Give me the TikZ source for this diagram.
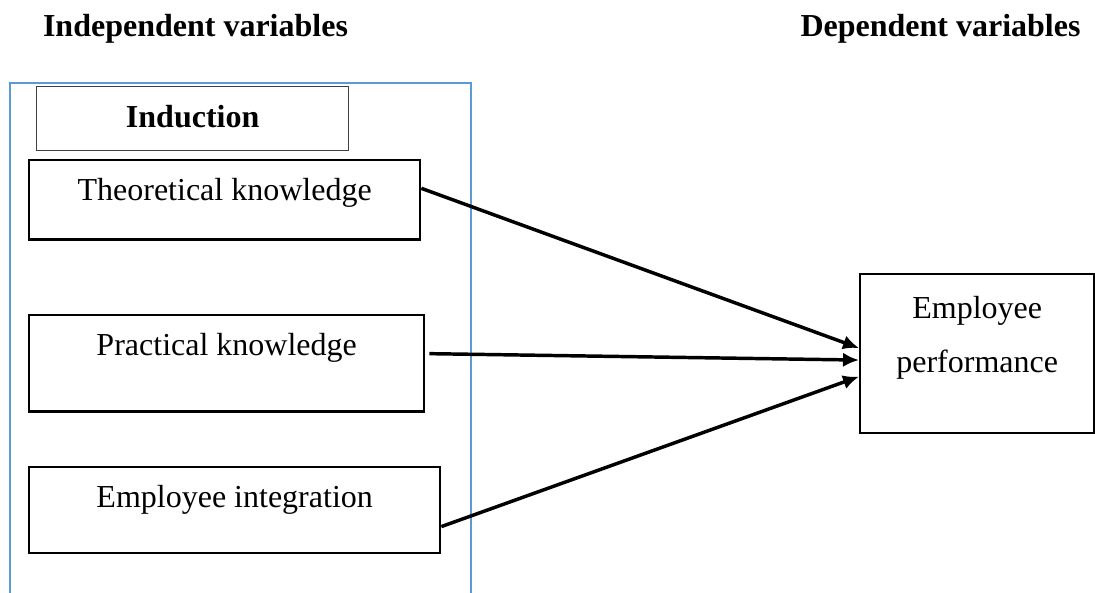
\documentclass[tikz,border=0pt]{standalone}
\usepackage{fontspec}
\setmainfont{Liberation Serif}
\usetikzlibrary{arrows.meta, positioning}
\definecolor{framecol}{HTML}{5B9BD5}
\tikzstyle{block} = [draw, line width=0.9pt, rectangle, anchor=north west, inner xsep=0pt, inner ysep=0pt, text height=15.2pt, font=\fontsize{12}{14}\selectfont]
\tikzstyle{heading} = [anchor=base, font=\fontsize{12}{14}\selectfont\bfseries]
\tikzstyle{group} = [draw=framecol, line width=1pt]
\tikzstyle{path} = [-{Latex[length=6pt, width=5.4pt]}, line width=1.3pt]

\begin{document}
\begin{tikzpicture}[x=0.375pt, y=-0.375pt]
    \useasboundingbox (0,0) rectangle (1095,593);
    \node (indep) [heading] at (195.5,37) {Independent variables};
    \node (dep) [heading] at (940.5,37) {Dependent variables};

    % Induction group.
    \draw [group] (10,593) |- (471,83) -- (471,593);
    \node (induction) [block, draw=black!75, line width=0.5pt, minimum width=117pt, text depth=8.7pt, font=\fontsize{12}{14}\selectfont\bfseries] at (36,86) {Induction};
    \node (theory) [block, minimum width=146.6pt, text depth=14.5pt] at (28,159) {Theoretical knowledge};
    \node (practical) [block, below=27.4pt of theory.south west, anchor=north west, minimum width=148.1pt, text depth=21.1pt] {Practical knowledge};
    \node (integration) [block, below=19.9pt of practical.south west, anchor=north west, minimum width=154.1pt, text depth=17pt] {Employee integration};
    \node (performance) [block, align=center, minimum width=87.75pt, text height=37pt, text depth=22.6pt, font=\fontsize{12}{20.4}\selectfont] at (859,273) {Employee\\performance};

    % Arrows.
    \draw [path] ([yshift=4.3pt]theory.east) -- ([yshift=2.1pt]performance.west);
    \draw [path] ([xshift=1.5pt, yshift=3.6pt]practical.east) -- ([yshift=-2.4pt]performance.west);
    \draw [path] ([yshift=-6.2pt]integration.east) -- ([yshift=-8.6pt]performance.west);
\end{tikzpicture}
\end{document}
